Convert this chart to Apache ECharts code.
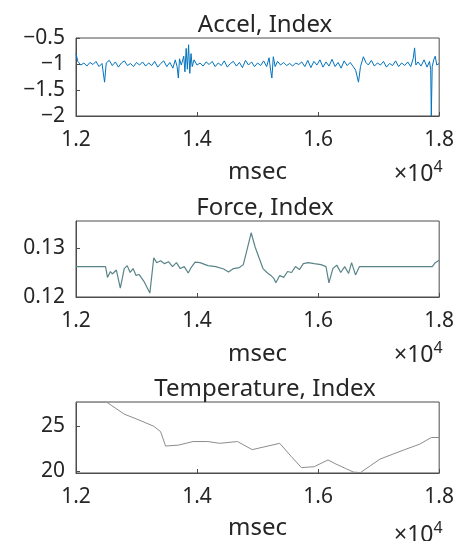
<!DOCTYPE html>
<html>
<head>
<meta charset="utf-8">
<script src="https://cdn.jsdelivr.net/npm/echarts@6/dist/echarts.min.js"></script>
<style>
  html, body { margin: 0; padding: 0; background: #fff; }
  #chart { width: 457px; height: 541px; }
</style>
</head>
<body>
<div id="chart"></div>
<script>
// [msec, value]
const accelData = [
  [12000, -0.80], [12030, -0.95], [12080, -1.02], [12130, -0.98], [12180, -1.04],
  [12230, -0.97], [12280, -1.01], [12330, -0.95], [12380, -1.05], [12430, -0.99],
  [12472, -1.35], [12500, -0.98], [12550, -0.93], [12600, -1.03], [12650, -0.96],
  [12700, -1.06], [12750, -0.98], [12800, -0.94], [12850, -1.03], [12900, -0.99],
  [12950, -1.05], [13000, -0.97], [13050, -1.02], [13100, -0.96], [13150, -1.04],
  [13200, -0.98], [13250, -1.03], [13300, -0.95], [13350, -1.06], [13400, -0.99],
  [13450, -0.94], [13500, -1.05], [13550, -0.97], [13600, -1.08], [13640, -0.92],
  [13670, -1.05], [13691, -1.27], [13710, -0.90], [13740, -1.02], [13780, -0.85],
  [13800, -1.15], [13820, -0.70], [13840, -1.10], [13860, -0.63], [13880, -1.18],
  [13900, -0.80], [13920, -1.05], [13950, -0.92], [14000, -1.02], [14050, -0.98],
  [14100, -1.04], [14150, -0.96], [14200, -1.01], [14250, -0.95], [14300, -1.05],
  [14350, -0.98], [14400, -1.03], [14450, -0.94], [14500, -1.06], [14550, -0.99],
  [14600, -0.95], [14650, -1.04], [14700, -0.97], [14750, -1.07], [14800, -0.93],
  [14850, -1.02], [14900, -0.96], [14950, -1.05], [15000, -0.98], [15050, -1.03],
  [15100, -0.94], [15150, -1.05], [15190, -0.88], [15215, -1.12], [15236, -1.27],
  [15260, -0.86], [15290, -1.05], [15330, -0.95], [15380, -1.02], [15430, -0.97],
  [15480, -1.03], [15530, -0.99], [15580, -1.04], [15630, -0.98], [15680, -1.01],
  [15730, -0.96], [15780, -1.05], [15830, -0.93], [15880, -1.07], [15930, -0.95],
  [15980, -1.02], [16030, -0.92], [16080, -1.06], [16130, -0.96], [16180, -1.04],
  [16230, -0.91], [16280, -1.05], [16330, -0.97], [16380, -1.08], [16430, -0.94],
  [16480, -1.03], [16530, -0.97], [16580, -1.05], [16620, -1.12], [16667, -1.35],
  [16700, -1.05], [16748, -0.86], [16790, -0.97], [16830, -1.02], [16880, -0.93],
  [16930, -1.04], [16980, -0.98], [17030, -1.02], [17080, -0.95], [17130, -1.06],
  [17180, -0.99], [17230, -1.03], [17280, -0.94], [17330, -1.05], [17380, -0.98],
  [17430, -1.03], [17480, -0.96], [17530, -1.05], [17570, -0.90], [17594, -0.69],
  [17615, -1.02], [17650, -0.96], [17700, -1.04], [17750, -0.92], [17800, -1.06],
  [17840, -0.95], [17860, -1.10], [17870, -2.00], [17885, -1.05], [17910, -0.92],
  [17935, -0.85], [17960, -1.02], [18000, -0.99]
];

const forceData = [
  [12000, 0.1262], [12488, 0.1262], [12520, 0.1240], [12569, 0.1252], [12600, 0.1247],
  [12667, 0.1255], [12732, 0.1218], [12797, 0.1258], [12846, 0.1264], [12894, 0.1250],
  [12943, 0.1258], [12992, 0.1244], [13041, 0.1246], [13122, 0.1232], [13220, 0.1208],
  [13285, 0.1280], [13333, 0.1270], [13398, 0.1274], [13463, 0.1268], [13528, 0.1272],
  [13594, 0.1262], [13659, 0.1270], [13724, 0.1258], [13789, 0.1262], [13854, 0.1249],
  [13902, 0.1260], [13967, 0.1271], [14049, 0.1270], [14179, 0.1264], [14309, 0.1262],
  [14439, 0.1257], [14520, 0.1251], [14602, 0.1258], [14699, 0.1260], [14764, 0.1266],
  [14829, 0.1298], [14894, 0.1331], [14959, 0.1302], [15024, 0.1280], [15089, 0.1258],
  [15154, 0.1250], [15219, 0.1244], [15268, 0.1238], [15301, 0.1229], [15366, 0.1244],
  [15431, 0.1240], [15496, 0.1252], [15561, 0.1250], [15626, 0.1262], [15691, 0.1256],
  [15756, 0.1268], [15837, 0.1270], [15935, 0.1268], [16049, 0.1266], [16130, 0.1262],
  [16179, 0.1229], [16244, 0.1258], [16309, 0.1265], [16374, 0.1250], [16439, 0.1262],
  [16504, 0.1248], [16553, 0.1270], [16618, 0.1245], [16683, 0.1262], [17886, 0.1262],
  [17935, 0.1270], [17967, 0.1268], [18000, 0.1275]
];

const tempData = [
  [12000, 27.7], [12504, 27.7], [12797, 26.35], [13041, 25.7], [13285, 25.0],
  [13398, 24.4], [13480, 22.8], [13691, 22.9], [13935, 23.3], [14179, 23.3],
  [14374, 23.1], [14667, 23.3], [14911, 22.4], [15366, 23.1], [15561, 21.6],
  [15724, 20.4], [15935, 20.5], [16163, 21.25], [16293, 20.8], [16455, 20.3],
  [16585, 19.9], [16699, 19.85], [16862, 20.6], [17024, 21.35], [17236, 21.9],
  [17431, 22.4], [17675, 23.0], [17870, 23.75], [18000, 23.75]
];

const titles = ['Accel, Index', 'Force, Index', 'Temperature, Index'];
const xTicks = [12000, 14000, 16000, 18000];
const accelTicks = [-2, -1.5, -1, -0.5];
const forceTicks = [0.12, 0.13];
const tempTicks = [20, 25];

const chart = echarts.init(document.getElementById('chart'));

const font = '"Noto Sans", "Liberation Sans", sans-serif';
const textColor = '#262626';
const boxColor = '#4d4d4d';

// plot boxes in px
const boxes = [
  { top: 38, height: 78, titleTop: 8, nameGap: 44 },
  { top: 221, height: 76, titleTop: 191, nameGap: 45 },
  { top: 402, height: 75, titleTop: 372, nameGap: 43 }
];

const fmtY = (v) => String(v).replace('-', '\u2212');

const makeX = (i) => ({
  type: 'value',
  gridIndex: i,
  min: 12000,
  max: 18000,
  interval: 2000,
  name: 'msec',
  nameLocation: 'middle',
  nameGap: boxes[i].nameGap,
  nameTextStyle: { color: textColor, fontSize: 24, fontFamily: font },
  axisLine: { show: true, lineStyle: { color: boxColor } },
  axisTick: { inside: true, length: 4, lineStyle: { color: boxColor } },
  splitLine: { show: false },
  axisLabel: {
    color: textColor, fontSize: 21, fontFamily: font, margin: 14,
    customValues: xTicks,
    formatter: (v) => (v / 10000).toFixed(1)
  }
});

const makeY = (i, min, max, ticks) => ({
  type: 'value',
  gridIndex: i,
  min, max,
  axisLine: { show: true, lineStyle: { color: boxColor } },
  axisTick: { inside: true, length: 4, customValues: ticks, lineStyle: { color: boxColor } },
  splitLine: { show: false },
  axisLabel: {
    color: textColor, fontSize: 21, fontFamily: font, margin: 11,
    customValues: ticks,
    formatter: fmtY
  }
});

chart.setOption({
  backgroundColor: '#fff',
  animation: false,
  title: boxes.map((b, i) => ({
    text: titles[i],
    left: 260,
    top: b.titleTop,
    textAlign: 'center',
    textStyle: { color: textColor, fontSize: 24, fontWeight: 'normal', fontFamily: font }
  })).concat(boxes.map((b) => ({
    text: '\u00d710{sup|4}',
    left: 389,
    top: b.top + b.height + 38,
    textStyle: {
      color: textColor, fontSize: 23, fontWeight: 'normal', fontFamily: font,
      rich: { sup: { fontSize: 16, verticalAlign: 'top', padding: [0, 0, 14, 0], color: textColor, fontFamily: font } }
    }
  }))),
  grid: boxes.map((b) => ({
    left: 76, width: 369, top: b.top, height: b.height,
    show: true, borderColor: boxColor, borderWidth: 1, backgroundColor: '#fff'
  })),
  xAxis: [makeX(0), makeX(1), makeX(2)],
  yAxis: [
    makeY(0, -2, -0.5, accelTicks),
    makeY(1, 0.12, 0.1355, forceTicks),
    makeY(2, 19.8, 27.7, tempTicks)
  ],
  series: [
    { type: 'line', xAxisIndex: 0, yAxisIndex: 0, data: accelData, showSymbol: false,
      lineStyle: { color: '#0072BD', width: 1 } },
    { type: 'line', xAxisIndex: 1, yAxisIndex: 1, data: forceData, showSymbol: false,
      lineStyle: { color: '#5a8588', width: 1.2 } },
    { type: 'line', xAxisIndex: 2, yAxisIndex: 2, data: tempData, showSymbol: false,
      lineStyle: { color: '#8c8c8c', width: 1 } }
  ]
});
</script>
</body>
</html>
